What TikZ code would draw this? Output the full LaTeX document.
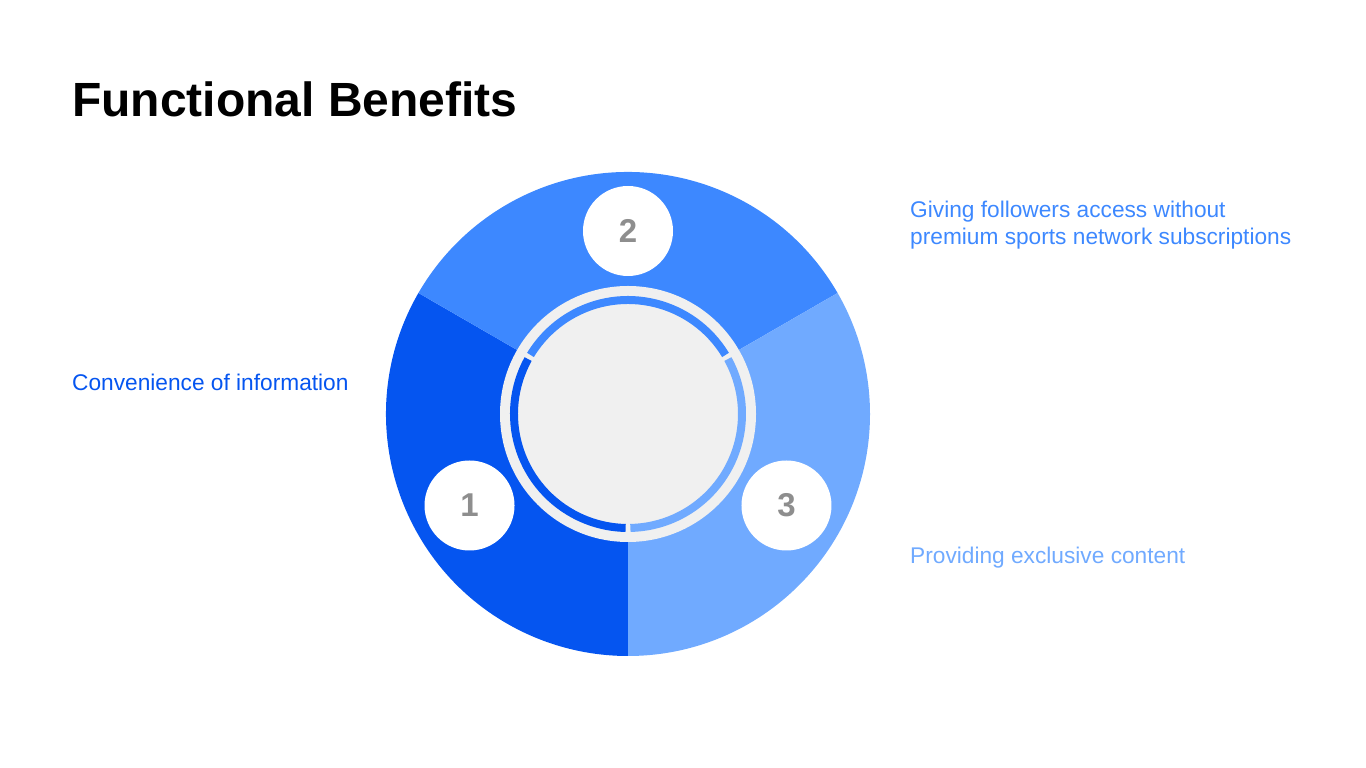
\documentclass[tikz,border=0pt]{standalone}
\usepackage{fontspec}
\setmainfont{Liberation Sans}
\usetikzlibrary{calc}

\definecolor{segA}{HTML}{0555F0}
\definecolor{segB}{HTML}{3D88FF}
\definecolor{segC}{HTML}{70AAFF}
\definecolor{hubgray}{HTML}{F0F0F0}
\definecolor{numgray}{HTML}{8E8E8E}

\tikzset{
  numdisc/.style={circle,fill=white,minimum size=90pt,inner sep=0pt,
    text=numgray,font=\fontsize{33}{33}\selectfont\bfseries},
  benefit/.style={anchor=base west,inner sep=0pt,align=left,
    font=\fontsize{22.7}{27}\selectfont},
}

\begin{document}
\begin{tikzpicture}[x=1pt,y=1pt]
\useasboundingbox (0,0) rectangle (1366,768);
\coordinate (c) at (628,354);
\node[anchor=base west,inner sep=0pt,font=\fontsize{48}{52}\selectfont\bfseries] (title) at (72,651) {Functional Benefits};
% the three slices
\foreach \a/\b/\col in {150/270/segA, 30/150/segB, -90/30/segC}
  \fill[\col] (c) -- ++(\a:242) arc[start angle=\a,end angle=\b,radius=242] -- cycle;
% hub with its ring
\fill[hubgray] (c) circle[radius=128];
\foreach \a/\b/\col in {150/270/segA, 30/150/segB, -90/30/segC}
  \draw[\col,line width=8pt] ([shift={(\a+1.2:114)}]c) arc[start angle=\a+1.2,end angle=\b-1.2,radius=114];
% numbers
\node[numdisc] (n1) at ($(c)+(210:183)$) {1};
\node[numdisc] (n2) at ($(c)+(90:183)$) {2};
\node[numdisc] (n3) at ($(c)+(-30:183)$) {3};
% texts
\node[benefit,text=segA] (t1) at (72,377) {Convenience of information};
\node[benefit,text=segB] (t2) at (910,523) {Giving followers access without\\premium sports network subscriptions};
\node[benefit,text=segC] (t3) at (910,204) {Providing exclusive content};
\end{tikzpicture}
\end{document}
